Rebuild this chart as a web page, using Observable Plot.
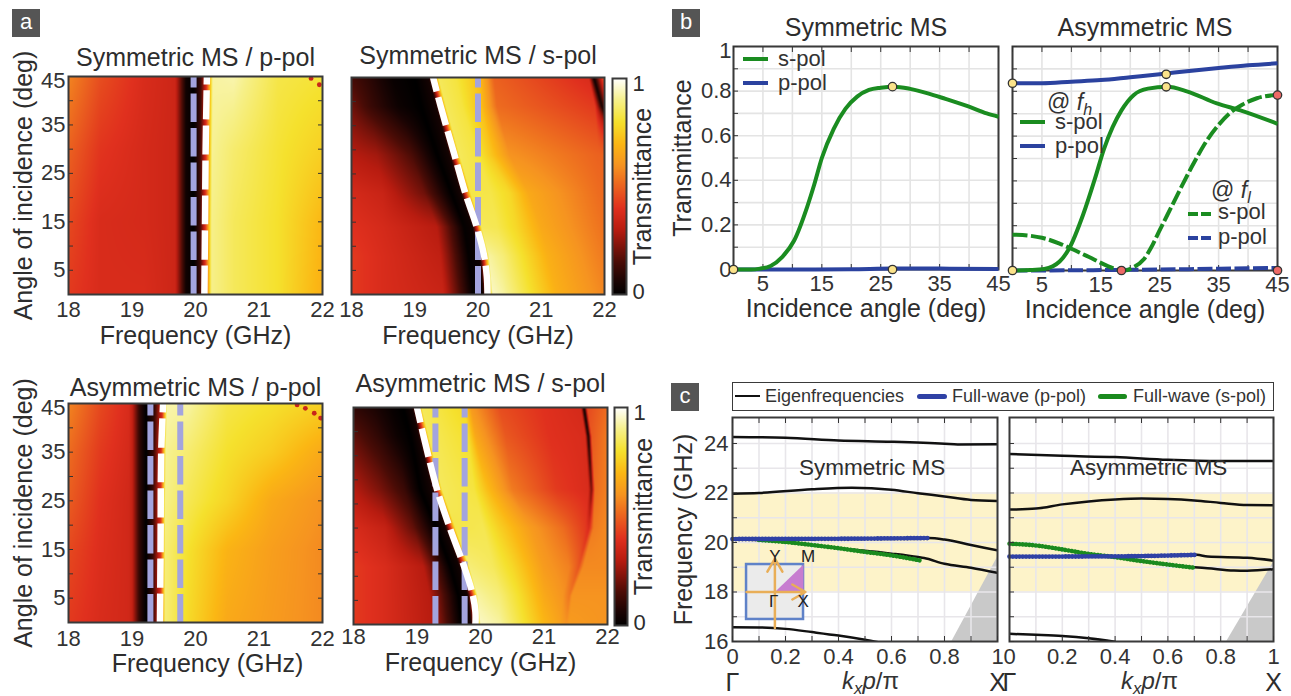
<!DOCTYPE html>
<html><head><meta charset="utf-8">
<script src="https://cdn.jsdelivr.net/npm/d3@7"></script>
<script src="https://cdn.jsdelivr.net/npm/@observablehq/plot@0.6"></script>
<style>
html,body{margin:0;padding:0;background:#fff;}
#page{position:relative;width:1291px;height:696px;overflow:hidden;font-family:"Liberation Sans",Arial,sans-serif;color:#333;}
#page svg{position:absolute;background:transparent;overflow:visible;}
.t{position:absolute;white-space:nowrap;transform:translateY(-50%);line-height:1;}
.sw{position:absolute;}
.s{font-size:70%;position:relative;top:.28em;}
</style></head><body><div id="page"></div>
<script>
/* colour map of the Transmittance scale */
const cmapStops=[0,.06,.15,.3,.4,.6,.7,.8,.9,1];
const cmapColors=["#000000","#1a0403","#4a0c06","#b81c10","#e0301e","#f69420","#fbb714","#f5e12d","#f6f08a","#ffffff"];

/* a1: Symmetric, p-pol — transmittance knots along each angle row */
const a1Angles=[0,15,30,45];
const a1Freqs=[
[18,18.5,19.2,19.68,19.85,19.97,20.07,20.15,20.25,20.6,21.3,22],
[18,18.5,19.2,19.68,19.85,19.97,20.07,20.15,20.25,20.6,21.3,22],
[18,18.5,19.2,19.68,19.85,19.97,20.07,20.16,20.26,20.6,21.3,22],
[18,18.5,19.2,19.68,19.85,19.97,20.08,20.17,20.27,20.6,21.3,22]];
const a1Vals=[
[.42,.38,.38,.35,.04,0,.12,.38,.9,.85,.8,.68],
[.45,.38,.37,.35,.04,0,.12,.38,.9,.85,.8,.7],
[.5,.41,.37,.35,.04,0,.12,.38,.91,.87,.81,.76],
[.57,.46,.38,.35,.04,0,.12,.38,.92,.93,.83,.81]];
const a1SpotF=[21.82,21.95], a1SpotA=[44.6,43.3];
const a1WhiteF=[20.14,20.15,20.16,20.18], a1WhiteA=[0,15,30,45];
const a1Lav=[19.97];

/* a2: Symmetric, s-pol */
const a2Angles=[0,8,14,21,29,39,45];
const a2Freqs=[
[18,18.5,19.45,19.92,20.08,20.15,20.23,20.4,20.77,21.25,21.95,22.3,22.5],
[18,18.5,19.4,19.85,20.02,20.09,20.17,20.4,20.7,21.1,21.9,22.3,22.5],
[18,18.5,19.35,19.78,19.91,19.98,20.05,20.3,20.6,21,21.9,22.3,22.5],
[18,18.5,19.15,19.58,19.73,19.8,19.88,20.2,20.5,20.8,21.9,22.3,22.5],
[18,18.4,18.95,19.35,19.55,19.62,19.7,20,20.2,20.5,21.9,22.3,22.5],
[18,18.3,18.75,19.1,19.34,19.41,19.49,19.75,20.05,20.3,21.85,21.96,22.1],
[18,18.3,18.65,19,19.22,19.29,19.37,19.65,20.02,20.25,21.75,21.83,22]];
const a2Vals=[
[.42,.38,.34,.01,.03,.38,.95,.92,.82,.68,.58,.56,.56],
[.42,.38,.32,.01,.03,.38,.92,.88,.8,.68,.56,.52,.52],
[.4,.37,.3,.01,.03,.38,.85,.84,.78,.66,.54,.5,.5],
[.37,.34,.2,0,.05,.38,.83,.83,.78,.66,.52,.5,.5],
[.3,.27,.15,0,.05,.38,.85,.82,.74,.6,.5,.5,.5],
[.2,.12,.03,0,.05,.38,.85,.82,.72,.52,.42,.05,.5],
[.14,.09,.02,0,.05,.38,.85,.82,.72,.5,.38,.03,.52]];
const a2WhiteF=[20.15,20.14,20.09,19.98,19.8,19.62,19.41,19.29], a2WhiteA=[0,3.7,8.5,14,21,29.3,39,45];
const a2Lav=[20];

/* a3: Asymmetric, p-pol */
const a3Angles=[0,15,25,35,45];
const a3Freqs=[
[18,18.5,18.95,19,19.12,19.22,19.32,19.45,19.52,19.9,20.5,21.2,22],
[18,18.5,18.95,19,19.12,19.22,19.32,19.45,19.52,19.9,20.5,21.2,22],
[18,18.5,18.95,19,19.12,19.22,19.32,19.45,19.52,19.9,20.5,21.2,22],
[18,18.5,18.95,19,19.12,19.22,19.33,19.46,19.53,19.9,20.5,21.2,22],
[18,18.5,18.95,19,19.12,19.22,19.35,19.48,19.55,19.9,20.5,21.2,22]];
const a3Vals=[
[.42,.38,.36,.33,.1,0,.1,.38,.88,.78,.66,.62,.58],
[.45,.39,.36,.33,.1,0,.1,.38,.88,.8,.69,.63,.58],
[.49,.4,.36,.33,.1,0,.1,.38,.9,.84,.77,.66,.6],
[.52,.42,.37,.33,.1,0,.1,.38,.91,.87,.8,.75,.66],
[.57,.45,.38,.33,.1,0,.1,.38,.93,.92,.83,.8,.76]];
const a3SpotF=[21.6,21.73,21.87,21.97], a3SpotA=[44.7,44,43,42];
const a3WhiteF=[19.44,19.45,19.46,19.49], a3WhiteA=[0,15,35,45];
const a3Lav=[19.29,19.76];

/* a4: Asymmetric, s-pol */
const a4Angles=[0,6,12,20,28,39,45];
const a4Freqs=[
[18,18.5,19.25,19.7,19.85,19.92,20,20.3,20.7,21,21.25,21.3,21.35,21.4,22],
[18,18.5,19.2,19.65,19.8,19.87,19.95,20.3,20.6,21,21.3,21.36,21.4,21.44,22],
[18,18.5,19.1,19.52,19.67,19.74,19.82,20.2,20.5,21,21.4,21.5,21.55,21.62,22],
[18,18.5,18.95,19.3,19.45,19.526,19.6,20.05,20.3,20.8,21.3,21.65,21.71,21.78,22],
[18,18.4,18.8,19.05,19.24,19.316,19.39,19.9,20.1,20.5,21.2,21.7,21.75,21.8,22],
[18,18.4,18.7,18.9,19.03,19.105,19.18,19.8,19.92,20.4,21.1,21.65,21.7,21.75,22],
[18,18.35,18.6,18.78,18.93,19,19.07,19.75,19.85,20.3,21,21.58,21.63,21.68,22]];
const a4Vals=[
[.42,.38,.3,0,.05,.38,.95,.92,.8,.7,.64,.62,.6,.62,.6],
[.42,.38,.3,0,.05,.38,.92,.88,.8,.66,.6,.56,.54,.6,.6],
[.42,.38,.3,0,.04,.38,.88,.85,.78,.62,.56,.5,.47,.58,.58],
[.38,.33,.18,0,.05,.38,.83,.84,.76,.62,.52,.42,.38,.55,.58],
[.3,.22,.12,0,.05,.38,.85,.82,.72,.55,.42,.38,.2,.52,.56],
[.18,.1,.03,0,.05,.38,.85,.8,.66,.48,.4,.38,.05,.48,.55],
[.1,.06,.02,0,.05,.38,.85,.78,.62,.46,.4,.37,.02,.45,.52]];
const a4WhiteF=[19.92,19.92,19.87,19.74,19.526,19.316,19.105,19], a4WhiteA=[0,2.6,6.6,12.1,19.7,28,39,45];
const a4Lav=[19.29,19.75];

const freqTicks=[18,19,20,21,22];
const angleTicks=[0,5,10,15,20,25,30,35,40,45];
const angleLabels=[5,15,25,35];

/* b: transmittance against incidence angle */
const b1AngleS=[0,3,4.5,6.3,8.3,10.3,12.5,13.7,15,17,19,21,23,25,27.2,30,33,36,40,43,45];
const b1S=[0,0,.004,.016,.057,.13,.28,.38,.5,.63,.72,.775,.805,.815,.82,.81,.79,.765,.73,.7,.685];
const b1AngleP=[0,10,20,27,35,45];
const b1P=[0,0,.001,.004,.004,.002];
const b1DotX=[0,27,27], b1DotY=[0,0,.82];

const b2AngleHs=[0,3,5.4,8,9.6,12,14,15.5,17,18.5,20.6,23,26.3,29.6,34.7,38.7,45];
const b2Hs=[0,.002,.007,.04,.097,.25,.41,.54,.64,.715,.784,.812,.82,.8,.746,.715,.655];
const b2AngleHp=[0,5,10,15,20,25,30,35,40,45];
const b2Hp=[.836,.836,.843,.85,.863,.876,.891,.904,.916,.925];
const b2AngleLs=[0,3,5,8,10,13,16,18,19,20.6,22.3,23.5,25,27,29,31,33,35,37,39,41.5,45];
const b2Ls=[.16,.155,.146,.12,.097,.06,.022,.003,0,.015,.05,.1,.18,.285,.39,.49,.58,.65,.705,.74,.769,.784];
const b2AngleLp=[0,10,20,30,40,45];
const b2Lp=[0,.001,.003,.006,.01,.011];
const b2YellowX=[0,0,26.1,26.1], b2YellowY=[.836,0,.876,.82];
const b2RedX=[18.5,45,45], b2RedY=[0,.783,0];

const bAngleTicks=[0,5,10,15,20,25,30,35,40,45];
const bAngleLabels=[5,15,25,35,45];
const bTTicks=[0,.1,.2,.3,.4,.5,.6,.7,.8,.9,1];
const bTLabels=[0,.2,.4,.6,.8];

/* c: dispersion */
const cBand1K=[0,.2,.4,.6,.8,.85,1], cBand1=[24.26,24.23,24.12,24.07,23.99,23.96,23.97];
const cBand2K=[0,.1,.3,.45,.6,.7,.8,.9,1], cBand2=[21.97,22,22.15,22.21,22.13,21.99,21.86,21.72,21.68];
const cBand3K=[0,.4,.74,.8,.9,1], cBand3=[20.15,20.16,20.18,20.12,19.9,19.68];
const cBand4K=[0,.1,.2,.4,.6,.7,.723,.8,.9,1], cBand4=[20.12,20.1,20.01,19.77,19.55,19.41,19.37,19.14,18.98,18.77];
const cBand5K=[0,.1,.2,.3,.4,.5,.56], cBand5=[16.58,16.57,16.51,16.38,16.24,16.07,15.95];
const cBlueK=[0,.4,.74], cBlue=[20.14,20.15,20.18];
const cGreenK=[.1,.2,.3,.4,.5,.6,.71], cGreen=[20.1,20.02,19.9,19.77,19.62,19.48,19.27];
const cLightK=[.828,1], cLight=[16,19.4];

const dBand1K=[0,.2,.4,.6,.8,1], dBand1=[23.58,23.5,23.45,23.34,23.29,23.29];
const dBand2K=[0,.1,.2,.3,.4,.5,.6,.7,.8,.9,1], dBand2=[21.33,21.37,21.54,21.66,21.74,21.78,21.76,21.7,21.6,21.51,21.5];
const dBand3K=[0,.4,.71,.75,.9,1], dBand3=[19.43,19.44,19.5,19.43,19.38,19.27];
const dBand4K=[0,.1,.2,.3,.4,.5,.6,.7,.75,.85,.9,1], dBand4=[19.95,19.88,19.72,19.54,19.41,19.25,19.11,19,18.96,18.87,18.86,18.92];
const dBand5K=[0,.1,.2,.3,.4], dBand5=[16.31,16.27,16.22,16.13,15.99];
const dBlueK=[0,.4,.71], dBlue=[19.43,19.44,19.5];
const dGreenK=[0,.1,.2,.3,.4,.5,.6,.7], dGreen=[19.95,19.88,19.72,19.54,19.41,19.25,19.11,18.98];
const dLightK=[.823,1], dLight=[16,19.2];

const cKTicks=[0,.1,.2,.3,.4,.5,.6,.7,.8,.9,1];
const cKLabels=[0,.2,.4,.6,.8,1];
const cFTicks=[16,17,18,19,20,21,22,23,24];
const cFLabels=[16,18,20,22,24];
const cBandRange=[18,22];

/* inset of panel c */
const insetSquareX=[.053,.268], insetSquareY=[16.89,19.11];
const insetCentre=[.16,18];
const insetMark=[{x:.268,y:18},{x:.268,y:19.11},{x:.16,y:18}];
const insetLabels=[{s:"Y",x:.16,y:19.42},{s:"M",x:.285,y:19.42},{s:"Γ",x:.155,y:17.62},{s:"X",x:.267,y:17.62}];

const GREEN="#1a8c20", BLUE="#2b429f", LAV="#a3a4de", ORANGE="#e9ae57";
const FS=22, LS=25;
const page=document.getElementById("page");
const pts=(xs,ys)=>xs.map((x,i)=>({x,y:ys[i]}));
const colorScale={type:"linear",domain:cmapStops,range:cmapColors,clamp:true};

function field(angles,freqs,vals){
  return (f,a)=>{
    let i=d3.bisectRight(angles,a)-1;
    i=Math.max(0,Math.min(angles.length-2,i));
    const t=Math.max(0,Math.min(1,(a-angles[i])/(angles[i+1]-angles[i])));
    const K0=freqs[i],K1=freqs[i+1],V0=vals[i],V1=vals[i+1];
    let j=0;
    const kAt=n=>K0[n]+(K1[n]-K0[n])*t;
    while(j<K0.length-2&&kAt(j+1)<f)j++;
    const k0=kAt(j),k1=kAt(j+1);
    const u=Math.max(0,Math.min(1,(f-k0)/(k1-k0)));
    const v0=V0[j]+(V1[j]-V0[j])*t, v1=V0[j+1]+(V1[j+1]-V0[j+1])*t;
    return v0+(v1-v0)*u;
  };
}

const M={l:80,t:45,r:30,b:62};
function place(frame,opts,marks){
  const [x0,y0,x1,y1]=frame;
  const svg=Plot.plot({width:x1-x0+M.l+M.r,height:y1-y0+M.t+M.b,
    marginLeft:M.l,marginRight:M.r,marginTop:M.t,marginBottom:M.b,
    style:{left:(x0-M.l)+"px",top:(y0-M.t)+"px",font:FS+"px 'Liberation Sans'",color:"#333",background:"transparent",overflow:"visible"},
    ...opts,marks});
  page.appendChild(svg);
}
const txt=(s,o)=>Plot.text([s],{fontSize:LS,fill:"#2d2d2d",textAnchor:"middle",lineAnchor:"middle",...o});

function heat({frame,title,titleDy,xlab,xlabDx=0,xlabDy,tickPad,angles,freqs,vals,white,lav,spots,yLab,rightTicks}){
  const white_=white[0].map((f,i)=>({f,a:white[1][i]}));
  const marks=[
    Plot.raster({x1:18,x2:22,y1:0,y2:45,fill:field(angles,freqs,vals),pixelSize:1}),
    spots?Plot.dot(pts(spots[0],spots[1]),{x:"x",y:"y",fill:"#c8261a",r:2.4,clip:true}):null,
    ...lav.map(f=>Plot.line(pts([f,f],[0,45]),{x:"x",y:"y",stroke:LAV,strokeWidth:6,strokeDasharray:"28.5,6",strokeLinecap:"butt",clip:true})),
    Plot.line(white_,{x:"f",y:"a",stroke:"#fff",strokeWidth:6.5,strokeDasharray:"29,6",curve:"catmull-rom",strokeLinecap:"butt",clip:true}),
    Plot.axisX({ticks:freqTicks,tickSize:0,tickPadding:tickPad,label:null,tickFormat:d=>String(d)}),
    Plot.axisY({ticks:angleTicks,tickSize:-5,tickPadding:8,label:null,tickFormat:d=>yLab&&angleLabels.includes(d)?String(d):""}),
    rightTicks?Plot.axisY({anchor:"right",ticks:angleTicks,tickSize:-5,tickPadding:5,label:null,tickFormat:()=>""}):null,
    Plot.frame({stroke:"#3a3a3a",strokeWidth:2}),
    txt(title,{frameAnchor:"top",dy:titleDy}),
    txt(xlab,{frameAnchor:"bottom",dy:xlabDy,dx:xlabDx}),
    yLab?txt("45",{frameAnchor:"top-left",dx:-3,dy:4,textAnchor:"end",fontSize:FS,fill:"#333"}):null,
    yLab?txt("Angle of incidence (deg)",{frameAnchor:"left",rotate:-90,dx:-45}):null
  ];
  place(frame,{x:{domain:[18,22]},y:{domain:[0,45]},color:colorScale},marks);
}
function cbar(frame){
  place(frame,{x:{domain:[0,1],axis:null},y:{domain:[0,1],axis:null},color:colorScale},[
    Plot.raster({x1:0,x2:1,y1:0,y2:1,fill:(x,y)=>y,pixelSize:1}),
    Plot.frame({stroke:"#3a3a3a",strokeWidth:2}),
    txt("1",{frameAnchor:"top-right",dx:6,dy:5,textAnchor:"start",fontSize:FS}),
    txt("0",{frameAnchor:"bottom-right",dx:6,dy:-3,textAnchor:"start",fontSize:FS}),
    txt("Transmittance",{frameAnchor:"right",rotate:-90,dx:16})
  ]);
}

heat({frame:[68,76,322,294],title:"Symmetric MS / p-pol",titleDy:-19,xlab:"Frequency (GHz)",xlabDy:41,tickPad:7,angles:a1Angles,freqs:a1Freqs,vals:a1Vals,white:[a1WhiteF,a1WhiteA],lav:a1Lav,spots:[a1SpotF,a1SpotA],yLab:true,rightTicks:true});
heat({frame:[351,77,604,294],title:"Symmetric MS / s-pol",titleDy:-22,xlab:"Frequency (GHz)",xlabDy:41,tickPad:7,angles:a2Angles,freqs:a2Freqs,vals:a2Vals,white:[a2WhiteF,a2WhiteA],lav:a2Lav,yLab:false});
heat({frame:[68,403,322,622],title:"Asymmetric MS / p-pol",titleDy:-16,xlab:"Frequency (GHz)",xlabDx:12,xlabDy:41,tickPad:8,angles:a3Angles,freqs:a3Freqs,vals:a3Vals,white:[a3WhiteF,a3WhiteA],lav:a3Lav,spots:[a3SpotF,a3SpotA],yLab:true,rightTicks:true});
heat({frame:[353,407,607,624],title:"Asymmetric MS / s-pol",titleDy:-24,xlab:"Frequency (GHz)",xlabDy:38,tickPad:4,angles:a4Angles,freqs:a4Freqs,vals:a4Vals,white:[a4WhiteF,a4WhiteA],lav:a4Lav,yLab:false});
cbar([612,78,626,294]);
cbar([614,407,627,625]);

function bPanel(frame,yLab,title,curves,dots){
  place(frame,{x:{domain:[0,45]},y:{domain:[0,1]}},[
    Plot.gridX({ticks:bAngleTicks,stroke:"#e4e4e4",strokeOpacity:1,strokeWidth:1.6}),
    Plot.gridY({ticks:bTTicks,stroke:"#e4e4e4",strokeOpacity:1,strokeWidth:1.6}),
    Plot.frame({stroke:"#3a3a3a",strokeWidth:2}),
    Plot.axisX({ticks:bAngleTicks,tickSize:-5,tickPadding:11,label:null,tickFormat:d=>bAngleLabels.includes(d)?String(d):""}),
    Plot.axisX({anchor:"top",ticks:bAngleTicks,tickSize:-5,tickPadding:5,label:null,tickFormat:()=>""}),
    Plot.axisY({ticks:bTTicks,tickSize:-5,tickPadding:7,label:null,tickFormat:d=>yLab&&bTLabels.includes(d)?String(d):""}),
    ...curves.map(c=>Plot.line(pts(c.x,c.y),{x:"x",y:"y",stroke:c.color,strokeWidth:4,curve:"monotone-x",strokeDasharray:c.dash,strokeLinecap:"butt"})),
    ...dots.map(d=>Plot.dot(pts(d.x,d.y),{x:"x",y:"y",r:4.2,fill:d.fill,stroke:"#333",strokeWidth:1.3})),
    txt(title,{frameAnchor:"top",dy:-19}),
    txt("Incidence angle (deg)",{frameAnchor:"bottom",dy:39}),
    yLab?txt("1",{frameAnchor:"top-left",dx:-2,dy:4,textAnchor:"end",fontSize:FS,fill:"#333"}):null,
    yLab?txt("Transmittance",{frameAnchor:"left",rotate:-90,dx:-51}):null
  ]);
}
bPanel([733,46,998,269],true,"Symmetric MS",[
  {x:b1AngleP,y:b1P,color:BLUE},{x:b1AngleS,y:b1S,color:GREEN}],
  [{x:b1DotX,y:b1DotY,fill:"#fbe38a"}]);
bPanel([1012,46,1277,270],false,"Asymmetric MS",[
  {x:b2AngleLp,y:b2Lp,color:BLUE,dash:"15,3.5"},
  {x:b2AngleHp,y:b2Hp,color:BLUE},
  {x:b2AngleHs,y:b2Hs,color:GREEN},
  {x:b2AngleLs,y:b2Ls,color:GREEN,dash:"15,3.5"}],
  [{x:b2YellowX,y:b2YellowY,fill:"#fbe38a"},{x:b2RedX,y:b2RedY,fill:"#ee6a66"}]);

function cPanel(frame,yLab,title,bands,blue,green,light,inset){
  const band=[{x1:0,x2:1,y1:cBandRange[0],y2:cBandRange[1]}];
  place(frame,{x:{domain:[0,1]},y:{domain:[16,25.05]}},[
    Plot.rect(band,{x1:"x1",x2:"x2",y1:"y1",y2:"y2",fill:"#fdf3c9"}),
    Plot.areaY(pts(light[0],light[1]),{x:"x",y1:16,y2:"y",fill:"#c9c9c9"}),
    Plot.gridX({ticks:cKTicks,stroke:"#e8e6ea",strokeOpacity:1,strokeWidth:1.6}),
    Plot.gridY({ticks:cFTicks,stroke:"#e8e6ea",strokeOpacity:1,strokeWidth:1.6}),
    ...bands.map(b=>Plot.line(pts(b[0],b[1]),{x:"x",y:"y",stroke:"#111",strokeWidth:2.5,curve:"monotone-x",clip:true})),
    ...(inset?[
      Plot.rect([0],{x1:insetSquareX[0],x2:insetSquareX[1],y1:insetSquareY[0],y2:insetSquareY[1],fill:"#ebebeb",stroke:"#5f82c8",strokeWidth:2.5}),
      Plot.line(insetMark,{x:"x",y:"y",fill:"#c77dd0",stroke:"none"}),
      Plot.arrow([0],{x1:insetCentre[0]-.107,x2:insetCentre[0]+.115,y1:insetCentre[1],y2:insetCentre[1],stroke:ORANGE,strokeWidth:2.5,headLength:9,bend:0}),
      Plot.arrow([0],{x1:insetCentre[0],x2:insetCentre[0],y1:insetCentre[1]-1.45,y2:insetCentre[1]+1.35,stroke:ORANGE,strokeWidth:2.5,headLength:9,bend:0}),
      Plot.text(insetLabels,{x:"x",y:"y",text:"s",fontSize:17,fill:"#222"})
    ]:[]),
    Plot.line(pts(green[0],green[1]),{x:"x",y:"y",stroke:"#1a8a1e",strokeWidth:4.6,strokeDasharray:"0.1,3.2",strokeLinecap:"round",curve:"monotone-x"}),
    Plot.line(pts(blue[0],blue[1]),{x:"x",y:"y",stroke:"#2f41a5",strokeWidth:4.8,strokeDasharray:"0.1,3.2",strokeLinecap:"round",curve:"monotone-x"}),
    Plot.frame({stroke:"#3a3a3a",strokeWidth:2}),
    Plot.axisX({ticks:cKTicks,tickSize:-5,tickPadding:12,label:null,tickFormat:d=>cKLabels.includes(d)?String(d):""}),
    Plot.axisX({anchor:"top",ticks:cKTicks,tickSize:-5,tickPadding:5,label:null,tickFormat:()=>""}),
    Plot.axisY({ticks:cFTicks,tickSize:-5,tickPadding:9,label:null,tickFormat:d=>yLab&&cFLabels.includes(d)?String(d):""}),
    Plot.text([title],{x:.527,y:23,fontSize:22.5,fill:"#2d2d2d"}),
    Plot.text(["Γ"],{x:0,frameAnchor:"bottom",dy:41,fontSize:LS,fill:"#2d2d2d",lineAnchor:"middle"}),
    Plot.text(["X"],{x:1,frameAnchor:"bottom",dy:41,fontSize:LS,fill:"#2d2d2d",lineAnchor:"middle"}),
    yLab?txt("Frequency (GHz)",{frameAnchor:"left",rotate:-90,dx:-49}):null
  ]);
}
cPanel([732,417,997,641],true,"Symmetric MS",
  [[cBand1K,cBand1],[cBand2K,cBand2],[cBand3K,cBand3],[cBand4K,cBand4],[cBand5K,cBand5]],
  [cBlueK,cBlue],[cGreenK,cGreen],[cLightK,cLight],true);
cPanel([1009,417,1273,641],false,"Asymmetric MS",
  [[dBand1K,dBand1],[dBand2K,dBand2],[dBand3K,dBand3],[dBand4K,dBand4],[dBand5K,dBand5]],
  [dBlueK,dBlue],[dGreenK,dGreen],[dLightK,dLight],false);

/* page furniture: badges, legends */
function html(x,y,s,size,extra=""){
  const d=document.createElement("div");d.className="t";
  d.style.cssText=`left:${x}px;top:${y}px;font-size:${size}px;${extra}`;d.innerHTML=s;page.appendChild(d);
}
function sw(x,y,w,color,dash,h=4){
  const d=document.createElement("div");d.className="sw";
  const bg=dash?`repeating-linear-gradient(90deg,${color} 0 ${dash[0]}px,transparent ${dash[0]}px ${dash[0]+dash[1]}px)`:color;
  d.style.cssText=`left:${x}px;top:${y-h/2}px;width:${w}px;height:${h}px;background:${bg};`;page.appendChild(d);
}
function badge(x,y,s){
  const d=document.createElement("div");
  d.style.cssText=`position:absolute;left:${x}px;top:${y}px;width:28px;height:28px;background:#555;color:#fff;font-size:22px;line-height:25px;text-align:center;`;
  d.textContent=s;page.appendChild(d);
}
badge(12,9,"a");badge(672,9,"b");badge(671,383,"c");

sw(743,59,25,GREEN);html(778,59,"s-pol",22);
sw(743,83,25,BLUE);html(778,83,"p-pol",22);

html(1047,102,'@ <i>f<span class="s">h</span></i>',23);
sw(1020,122,25,GREEN);html(1055,122,"s-pol",22);
sw(1020,146,25,BLUE);html(1055,146,"p-pol",22);
html(1211,190,'@ <i>f<span class="s">l</span></i>',23);
sw(1188,214,24,GREEN,[10,3]);html(1218,212,"s-pol",22);
sw(1188,238,24,BLUE,[10,3]);html(1218,237,"p-pol",22);

const box=document.createElement("div");
box.style.cssText="position:absolute;left:732px;top:382px;width:540px;height:27px;border:1.5px solid #3a3a3a;background:#fff;";
page.appendChild(box);
sw(735,396,25,"#111",null,2.5);html(765,396,"Eigenfrequencies",18);
function beads(x,y,w,color){
  const d=document.createElement("div");d.className="sw";
  d.style.cssText=`left:${x}px;top:${y-2.5}px;width:${w}px;height:5px;border-radius:3px;background:${color};`;page.appendChild(d);
}
beads(917,396,30,"#2f41a5");html(952,396,"Full-wave (p-pol)",18);
beads(1098,396,29,"#1a8a1e");html(1133,396,"Full-wave (s-pol)",18);

html(842,681,'<i>k<span class="s">x</span>p</i>/π',24);
html(1121,681,'<i>k<span class="s">x</span>p</i>/π',24);
</script></body></html>
